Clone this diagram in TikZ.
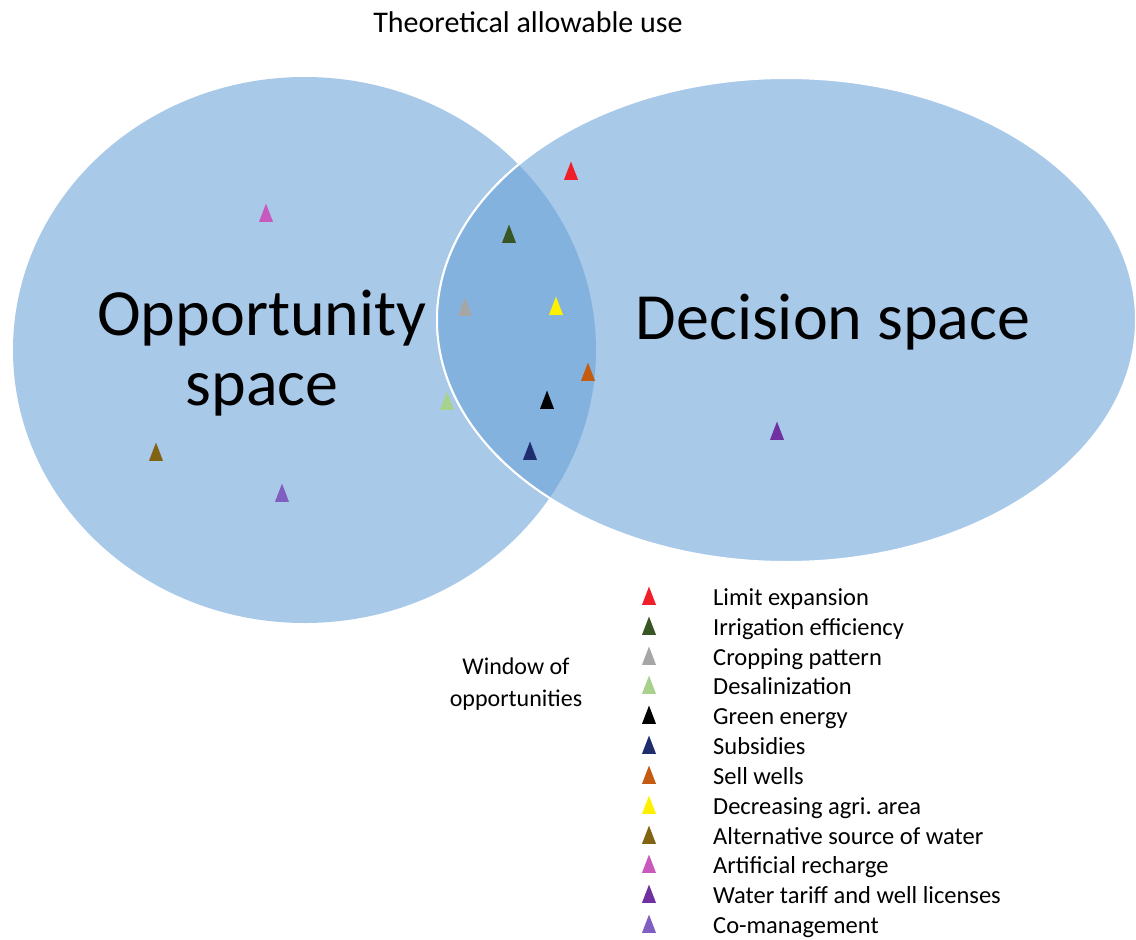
\documentclass[tikz,border=0pt]{standalone}
\usepackage{fontspec}
\setmainfont{Carlito}
\usetikzlibrary{shapes.geometric}

\definecolor{spacefill}{RGB}{169,201,233}
\definecolor{lensfill}{RGB}{132,178,222}
\definecolor{expansion}{RGB}{240,30,40}
\definecolor{irrigation}{RGB}{55,86,35}
\definecolor{cropping}{RGB}{166,166,166}
\definecolor{desalination}{RGB}{169,209,142}
\definecolor{energy}{RGB}{0,0,0}
\definecolor{subsidy}{RGB}{31,45,110}
\definecolor{wells}{RGB}{197,90,17}
\definecolor{agriarea}{RGB}{255,240,0}
\definecolor{altsource}{RGB}{128,100,20}
\definecolor{recharge}{RGB}{200,90,190}
\definecolor{tariff}{RGB}{112,48,160}
\definecolor{comanage}{RGB}{128,95,192}

\begin{document}
\begin{tikzpicture}[x=1pt,y=-1pt,
            mark node/.style={isosceles triangle,isosceles triangle apex angle=42,shape border rotate=90,inner sep=0pt,minimum width=14pt,minimum height=18pt},
            key node/.style={anchor=west,inner sep=0pt,text height=15pt,text depth=5pt,font=\fontsize{24.5}{27}\selectfont},
            ]
            \useasboundingbox (0,0) rectangle (1136,940);

            % the two spaces and their overlap
            \fill[spacefill] (304.5,350) ellipse [x radius=291.5, y radius=273];
            \filldraw[fill=spacefill,draw=white,line width=2pt] (786.5,320) ellipse [x radius=349.5, y radius=242];
            \begin{scope}
                \clip (304.5,350) ellipse [x radius=291.5, y radius=273];
                \filldraw[fill=lensfill,draw=white,line width=2pt] (786.5,320) ellipse [x radius=349.5, y radius=242];
            \end{scope}

            \node[font=\fontsize{30}{33}\selectfont] (title) at (528,22) {Theoretical allowable use};
            \node[font=\fontsize{66}{70}\selectfont,align=center] (opportunity) at (262,353) {Opportunity\\space};
            \node[font=\fontsize{66}{70}\selectfont] (decision) at (833,322) {Decision space};
            \node[font=\fontsize{24}{32}\selectfont,align=center] (window) at (516,684) {Window of\\opportunities};

            % measures in the diagram
            \node[mark node, fill=expansion] (expansion) at (571,175) {};
            \node[mark node, fill=irrigation] (irrigation) at (509,238) {};
            \node[mark node, fill=cropping] (cropping) at (465,311) {};
            \node[mark node, fill=desalination] (desalination) at (447,405) {};
            \node[mark node, fill=energy] (energy) at (547,404) {};
            \node[mark node, fill=subsidy] (subsidy) at (530,455) {};
            \node[mark node, fill=wells] (wells) at (588,376) {};
            \node[mark node, fill=agriarea] (agriarea) at (556,310) {};
            \node[mark node, fill=altsource] (altsource) at (156,456) {};
            \node[mark node, fill=recharge] (recharge) at (266,217) {};
            \node[mark node, fill=tariff] (tariff) at (777,435) {};
            \node[mark node, fill=comanage] (comanage) at (282,497) {};

            % legend
            \node[mark node, fill=expansion] (key 1) at (649,600) {};
            \node[mark node, fill=irrigation] (key 2) at (649,630) {};
            \node[mark node, fill=cropping] (key 3) at (649,660) {};
            \node[mark node, fill=desalination] (key 4) at (649,689) {};
            \node[mark node, fill=energy] (key 5) at (649,719) {};
            \node[mark node, fill=subsidy] (key 6) at (649,749) {};
            \node[mark node, fill=wells] (key 7) at (649,779) {};
            \node[mark node, fill=agriarea] (key 8) at (649,809) {};
            \node[mark node, fill=altsource] (key 9) at (649,839) {};
            \node[mark node, fill=recharge] (key 10) at (649,868) {};
            \node[mark node, fill=tariff] (key 11) at (649,898) {};
            \node[mark node, fill=comanage] (key 12) at (649,928) {};

            \node[key node] (text 1) at (713,600) {Limit expansion};
            \node[key node] (text 2) at (713,630) {Irrigation efficiency};
            \node[key node] (text 3) at (713,660) {Cropping pattern};
            \node[key node] (text 4) at (713,689) {Desalinization};
            \node[key node] (text 5) at (713,719) {Green energy};
            \node[key node] (text 6) at (713,749) {Subsidies};
            \node[key node] (text 7) at (713,779) {Sell wells};
            \node[key node] (text 8) at (713,809) {Decreasing agri.\ area};
            \node[key node] (text 9) at (713,839) {Alternative source of water};
            \node[key node] (text 10) at (713,868) {Artificial recharge};
            \node[key node] (text 11) at (713,898) {Water tariff and well licenses};
            \node[key node] (text 12) at (713,928) {Co-management};
        \end{tikzpicture}
\end{document}
